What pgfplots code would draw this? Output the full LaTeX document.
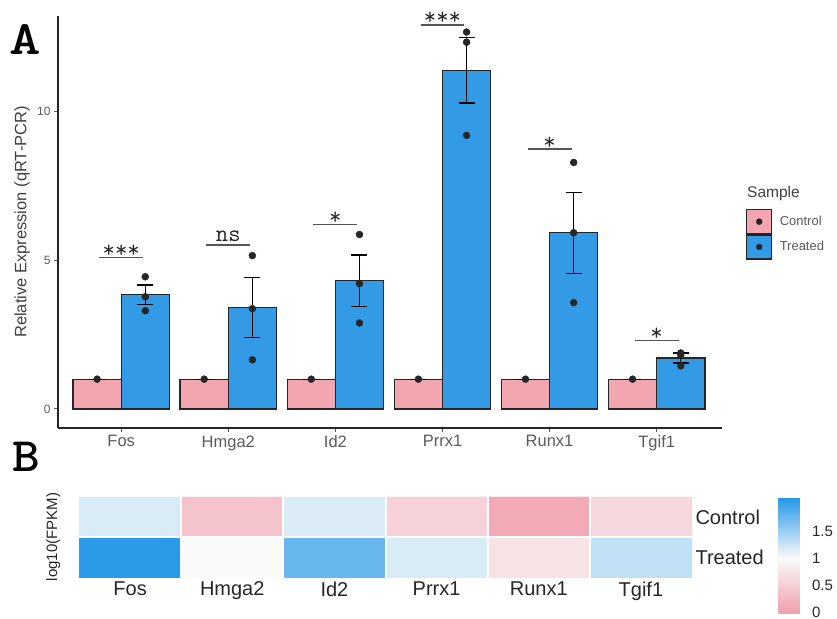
\documentclass[border=0pt]{standalone}
\usepackage{pgfplots}
\pgfplotsset{compat=1.18}
\usepackage{fontspec}
\setmainfont{Liberation Sans}
\definecolor{ctrl}{HTML}{F4A6B0}
\definecolor{treat}{HTML}{339BE6}
\definecolor{labgray}{HTML}{5A5A5A}
\definecolor{siggray}{HTML}{555555}
\tikzset{sig/.style={font=\ttfamily\fontsize{24bp}{24bp}\selectfont, text=black!85, anchor=base, inner sep=0pt}}
\pgfplotsset{ebar/.style={draw=none, mark=none, forget plot,
  error bars/.cd, y dir=both, y explicit,
  error bar style={line width=1.3bp, draw=black},
  error mark options={rotate=90, mark size=8bp, line width=1.3bp, draw=black}}}
\begin{document}
\begin{tikzpicture}
\useasboundingbox (0bp,0bp) rectangle (837bp,619bp);
\begin{axis}[
  at={(58bp,191bp)}, anchor=south west,
  scale only axis, width=664bp, height=412bp,
  xmin=0.41, xmax=6.61, ymin=-0.64, ymax=13.2,
  clip=false,
  axis x line*=bottom, axis y line*=left,
  axis line style={-, line width=1.3bp, draw=black!85},
  xtick={1,2,3,4,5,6},
  xticklabels={Fos,Hmga2,Id2,Prrx1,Runx1,Tgif1},
  ytick={0,5,10},
  tick align=outside,
  major tick length=4bp,
  tick style={draw=labgray, line width=1bp},
  /pgf/number format/assume math mode=true,
  x tick label style={font=\fontsize{16.5bp}{18bp}\selectfont, text=labgray},
  y tick label style={font=\fontsize{12bp}{14bp}\selectfont, text=labgray},
  ylabel={Relative Expression (qRT-PCR)},
  ylabel style={at={(axis description cs:-0.054,0.5)}, anchor=center, font=\fontsize{16.5bp}{18bp}\selectfont, text=black!75},
  legend style={at={(axis description cs:1.036,0.532)}, anchor=north west, draw=none, fill=none, inner sep=0pt, row sep=0pt, font=\fontsize{13bp}{15bp}\selectfont, text=labgray},
  legend cell align=left,
]
% Control bars
\addplot[ybar, bar width=0.45, bar shift=-0.225, fill=ctrl, draw=black!85, line width=1.3bp, forget plot]
coordinates {(1,1) (2,1) (3,1) (4,1) (5,1) (6,1)};
% Treated bars
\addplot[ybar, bar width=0.45, bar shift=0.225, fill=treat, draw=black!85, line width=1.3bp, forget plot]
coordinates {(1,3.84) (2,3.40) (3,4.31) (4,11.38) (5,5.92) (6,1.71)};
% error bars (mean +- SEM) at the dodged bar centres
\addplot[ebar] coordinates {(0.775,1) +- (0,0) (1.775,1) +- (0,0) (2.775,1) +- (0,0) (3.775,1) +- (0,0) (4.775,1) +- (0,0) (5.775,1) +- (0,0)};
\addplot[ebar] coordinates {(1.225,3.84) +- (0,0.32) (2.225,3.40) +- (0,1.01) (3.225,4.31) +- (0,0.86) (4.225,11.38) +- (0,1.10) (5.225,5.92) +- (0,1.36) (6.225,1.71) +- (0,0.17)};
% replicate points
\addplot[only marks, mark=*, mark size=3.5bp, mark options={fill=black!85, draw=black!85}, forget plot]
coordinates {(0.775,1) (1.775,1) (2.775,1) (3.775,1) (4.775,1) (5.775,1)};
\addplot[only marks, mark=*, mark size=3.5bp, mark options={fill=black!85, draw=black!85}, forget plot]
coordinates {
(1.225,4.44) (1.225,3.77) (1.225,3.30)
(2.225,5.15) (2.225,3.37) (2.225,1.65)
(3.225,5.86) (3.225,4.21) (3.225,2.89)
(4.225,12.66) (4.225,12.32) (4.225,9.19)
(5.225,8.28) (5.225,5.92) (5.225,3.57)
(6.225,1.88) (6.225,1.80) (6.225,1.45)};
% significance brackets
\addplot[siggray, line width=1.5bp, forget plot] coordinates {(0.795,5.09) (1.205,5.09)};
\addplot[siggray, line width=1.5bp, forget plot] coordinates {(1.795,5.50) (2.205,5.50)};
\addplot[siggray, line width=1.5bp, forget plot] coordinates {(2.795,6.20) (3.205,6.20)};
\addplot[siggray, line width=1.5bp, forget plot] coordinates {(3.795,12.90) (4.205,12.90)};
\addplot[siggray, line width=1.5bp, forget plot] coordinates {(4.795,8.73) (5.205,8.73)};
\addplot[siggray, line width=1.5bp, forget plot] coordinates {(5.795,2.30) (6.205,2.30)};
\node[sig, yshift=0bp] at (axis cs:1,5.09) {***};
\node[sig, yshift=4bp] at (axis cs:2,5.50) {ns};
\node[sig, yshift=0bp] at (axis cs:3,6.20) {*};
\node[sig, yshift=0bp] at (axis cs:4,12.90) {***};
\node[sig, yshift=0bp] at (axis cs:5,8.73) {*};
\node[sig, yshift=0bp] at (axis cs:6,2.30) {*};
% legend
\addlegendimage{legend image code/.code={\draw[fill=ctrl, draw=black!85, line width=1.3bp] (0bp,-12bp) rectangle (25bp,12bp); \fill[black!85] (12.5bp,0bp) circle (3bp); \path[draw=none, fill=none] (25bp,0bp) -- (31bp,0bp);}}
\addlegendentry{Control}
\addlegendimage{legend image code/.code={\draw[fill=treat, draw=black!85, line width=1.3bp] (0bp,-12bp) rectangle (25bp,12bp); \fill[black!85] (12.5bp,0bp) circle (3bp); \path[draw=none, fill=none] (25bp,0bp) -- (31bp,0bp);}}
\addlegendentry{Treated}
\node[anchor=west, inner sep=0pt, font=\fontsize{15.5bp}{17bp}\selectfont, text=black!75] at (axis description cs:1.0377,0.568) {Sample};
\end{axis}
\node[anchor=base west, font=\ttfamily\bfseries\fontsize{48bp}{48bp}\selectfont, inner sep=0pt] at (9bp,564bp) {\scalebox{1.25}[1]{A}};
\node[anchor=base west, font=\ttfamily\bfseries\fontsize{48bp}{48bp}\selectfont, inner sep=0pt] at (12bp,147bp) {\scalebox{1.1}[1]{B}};
\begin{axis}[
  at={(79bp,41bp)}, anchor=south west,
  scale only axis, width=613bp, height=81bp,
  xmin=0.5, xmax=6.5, ymin=0.5, ymax=2.5,
  enlargelimits=false,
  axis line style={draw=none}, major tick length=0pt,
  xtick={1,2,3,4,5,6},
  xticklabels={Fos,Hmga2,Id2,Prrx1,Runx1,Tgif1},
  ytick={1,2}, yticklabels={Treated,Control},
  yticklabel pos=right,
  tick label style={font=\fontsize{20bp}{22bp}\selectfont, text=black!85},
  ylabel={log10(FPKM)},
  ylabel style={at={(axis description cs:-0.042,0.506)}, anchor=center, font=\fontsize{15bp}{17bp}\selectfont, text=black!85},
  colormap={heat}{rgb255(0cm)=(240,158,172); rgb255(1.04cm)=(250,250,250); rgb255(2.17cm)=(33,150,232)},
  point meta min=-0.04, point meta max=2.13,
  colorbar,
  colorbar/width=21bp,
  colorbar style={at={(parent axis.north east)}, anchor=north west, xshift=78bp,
    scale only axis, enlargelimits=false, height=117bp,
    ytick={0,0.5,1,1.5}, axis line style={draw=none}, major tick length=0pt,
    yticklabel style={font=\fontsize{15bp}{17bp}\selectfont, text=black!85, xshift=9bp},
    /pgf/number format/assume math mode=true},
]
\addplot[matrix plot*, mesh/cols=6, point meta=explicit] table[meta=c] {
x y c
1 1 2.08
2 1 1.00
3 1 1.76
4 1 1.17
5 1 0.74
6 1 1.29
1 2 1.17
2 2 0.38
3 2 1.16
4 2 0.55
5 2 0.10
6 2 0.63
};
\addplot[white, line width=2bp] coordinates {(0.5,1.5) (6.5,1.5)};
\addplot[white, line width=2bp] coordinates {(1.5,0.5) (1.5,2.5)};
\addplot[white, line width=2bp] coordinates {(2.5,0.5) (2.5,2.5)};
\addplot[white, line width=2bp] coordinates {(3.5,0.5) (3.5,2.5)};
\addplot[white, line width=2bp] coordinates {(4.5,0.5) (4.5,2.5)};
\addplot[white, line width=2bp] coordinates {(5.5,0.5) (5.5,2.5)};
\end{axis}
\end{tikzpicture}
\end{document}
